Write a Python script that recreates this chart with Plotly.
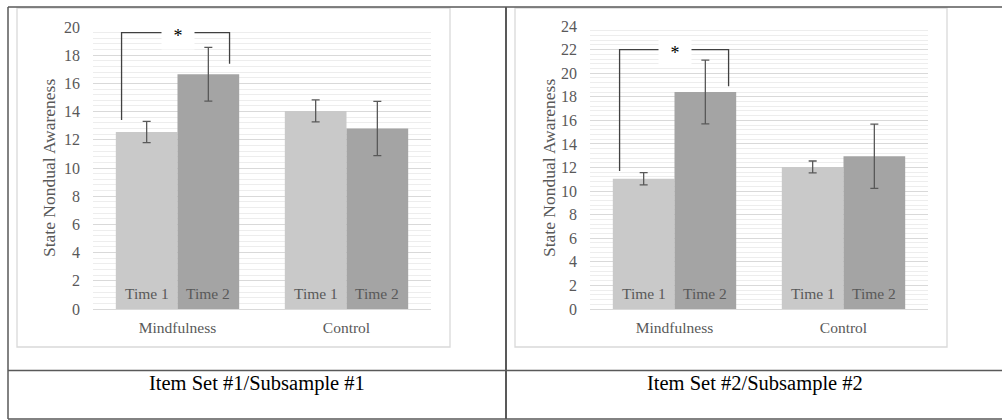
import plotly.graph_objects as go

# ---------------- data ----------------
categories = ["Mindfulness", "Control"]
series_names = ["Time 1", "Time 2"]

# Item Set #1 / Subsample #1
set1_time1 = [12.55, 14.05]
set1_time1_err = [0.75, 0.78]
set1_time2 = [16.65, 12.8]
set1_time2_err = [1.9, 1.92]

# Item Set #2 / Subsample #2
set2_time1 = [11.05, 12.05]
set2_time1_err = [0.52, 0.5]
set2_time2 = [18.4, 12.95]
set2_time2_err = [2.7, 2.72]

y1_ticks = list(range(0, 21, 2))
y2_ticks = list(range(0, 25, 2))

# significance brackets: [left bottom, top, right bottom]
bracket1_y = [13.4, 19.6, 17.4]
bracket2_y = [11.7, 22.0, 18.9]

captions = ["Item Set #1/Subsample #1", "Item Set #2/Subsample #2"]
y_title = "State Nondual Awareness"
star = "*"

# ---------------- style ----------------
W, H = 1002, 420
FONT = "Liberation Serif, Times New Roman, serif"
C_T1 = "#c9c9c9"
C_T2 = "#a4a4a4"
C_TXT = "#595959"
C_ERR = "#595959"
BARGAP = 0.27


def px(x):
    return x / W


def py(y):
    return 1 - y / H


fig = go.Figure()

panels = [
    dict(x="x", y="y", t1=set1_time1, e1=set1_time1_err, t2=set1_time2, e2=set1_time2_err),
    dict(x="x2", y="y2", t1=set2_time1, e1=set2_time1_err, t2=set2_time2, e2=set2_time2_err),
]
for p in panels:
    for name, vals, errs, col in [
        (series_names[0], p["t1"], p["e1"], C_T1),
        (series_names[1], p["t2"], p["e2"], C_T2),
    ]:
        fig.add_trace(go.Bar(
            x=categories, y=vals, name=name, marker=dict(color=col, line=dict(width=0)),
            error_y=dict(type="data", array=errs, visible=True, color=C_ERR, thickness=1.3, width=4),
            xaxis=p["x"], yaxis=p["y"], showlegend=False, hoverinfo="skip",
        ))

axis_x = dict(type="category", range=[-0.5, 1.5], showgrid=False, showline=True,
              linecolor="#d9d9d9", linewidth=1.3, ticks="", ticklabelstandoff=4,
              tickfont=dict(family=FONT, size=15.5, color=C_TXT), fixedrange=True)
axis_y = dict(showline=False, zeroline=False, gridcolor="#d9d9d9", gridwidth=1,
              dtick=2, tick0=0, ticks="", ticklabelstandoff=12,
              minor=dict(dtick=0.4, showgrid=True, gridcolor="#ededed", gridwidth=1),
              tickfont=dict(family=FONT, size=16, color=C_TXT), fixedrange=True)

fig.update_layout(
    width=W, height=H, margin=dict(l=0, r=0, t=0, b=0, autoexpand=False),
    paper_bgcolor="white", plot_bgcolor="white",
    barmode="group", bargap=BARGAP, bargroupgap=0,
    xaxis=dict(axis_x, domain=[px(93), px(431)], anchor="y"),
    yaxis=dict(axis_y, domain=[py(309), py(27)], range=[0, 20], tickvals=y1_ticks, anchor="x"),
    xaxis2=dict(axis_x, domain=[px(590), px(928)], anchor="y2"),
    yaxis2=dict(axis_y, domain=[py(309), py(26)], range=[0, 24], tickvals=y2_ticks, anchor="x2"),
)

shapes = []
annotations = []

# table borders
LC = "#595959"
shapes += [
    dict(type="line", xref="paper", yref="paper", x0=px(8), x1=1, y0=py(7), y1=py(7), line=dict(color=LC, width=1.5)),
    dict(type="line", xref="paper", yref="paper", x0=px(8), x1=px(8), y0=py(7), y1=py(419), line=dict(color=LC, width=1.5)),
    dict(type="line", xref="paper", yref="paper", x0=px(506), x1=px(506), y0=py(7), y1=py(419), line=dict(color=LC, width=2)),
    dict(type="line", xref="paper", yref="paper", x0=px(8), x1=1, y0=py(370.5), y1=py(370.5), line=dict(color=LC, width=1.5)),
    dict(type="line", xref="paper", yref="paper", x0=px(8), x1=1, y0=py(419), y1=py(419), line=dict(color=LC, width=1.5)),
]
# chart frames
for x0, x1 in [(17, 450), (515, 947)]:
    shapes.append(dict(type="rect", xref="paper", yref="paper", x0=px(x0), x1=px(x1),
                       y0=py(347), y1=py(8), line=dict(color="#d9d9d9", width=1.3), layer="below"))

# brackets + star
half = (1 - BARGAP) / 4
for xr, yr, b, (xl, xrr) in [("x", "y", bracket1_y, (-0.331, 0.308)), ("x2", "y2", bracket2_y, (-0.325, 0.32))]:
    shapes.append(dict(type="path", xref=xr, yref=yr,
                       path=f"M {xl},{b[0]} L {xl},{b[1]} L {xrr},{b[1]} L {xrr},{b[2]}",
                       line=dict(color="#404040", width=1.3)))
    annotations.append(dict(xref=xr, yref=yr, x=0, y=b[1], text=star, showarrow=False,
                            bgcolor="white", width=30, height=24, yshift=-3,
                            font=dict(family=FONT, size=18, color="black")))
    # in-bar labels
    for i, _ in enumerate(categories):
        for j, nm in enumerate(series_names):
            annotations.append(dict(xref=xr, yref=yr, x=i + (2 * j - 1) * half, y=0, yshift=16,
                                    text=nm, showarrow=False, yanchor="middle",
                                    font=dict(family=FONT, size=15.5, color=C_TXT)))

# y axis titles
for xc in [49, 549]:
    annotations.append(dict(xref="paper", yref="paper", x=px(xc), y=py(168), text=y_title,
                            textangle=-90, showarrow=False, xanchor="center", yanchor="middle",
                            font=dict(family=FONT, size=17.5, color=C_TXT)))

# captions
for xc, cap in zip([257, 755], captions):
    annotations.append(dict(xref="paper", yref="paper", x=px(xc), y=py(383.5), text=cap,
                            showarrow=False, xanchor="center", yanchor="middle",
                            font=dict(family=FONT, size=20.5, color="black")))

fig.update_layout(shapes=shapes, annotations=annotations)
fig.write_html(
    "out.html",
    config={"displayModeBar": False},
    post_script="document.body.style.margin='0';document.body.style.overflow='hidden';",
)
